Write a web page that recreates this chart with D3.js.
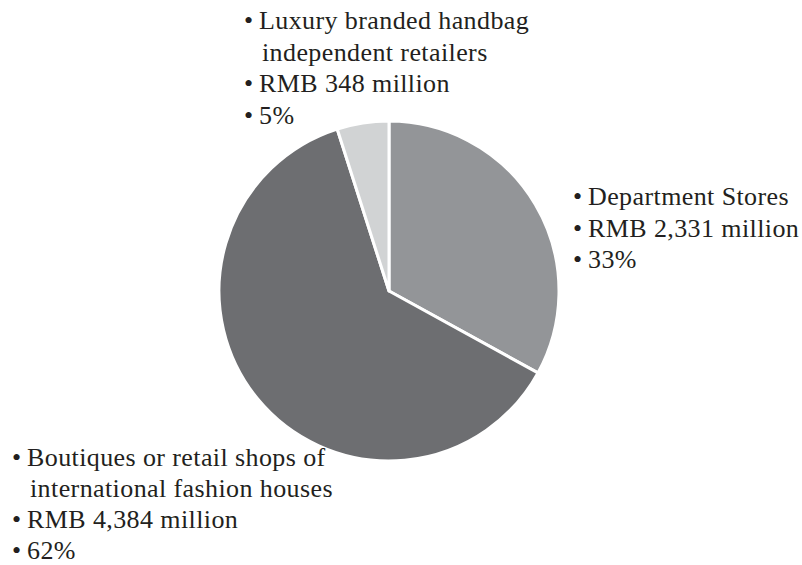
<!DOCTYPE html>
<html>
<head>
<meta charset="utf-8">
<script src="https://cdn.jsdelivr.net/npm/d3@7"></script>
<style>
  html, body { margin: 0; padding: 0; background: #fff; }
  svg { display: block; }
</style>
</head>
<body>
<svg id="chart" width="802" height="565"></svg>
<script>
// Luxury handbag sales by retail channel
const channels = [
  ["Department Stores"],
  ["Boutiques or retail shops of", "international fashion houses"],
  ["Luxury branded handbag", "independent retailers"]
];
const salesRMBm = [2331, 4384, 348];
const shares = [33, 62, 5];
const colors = ["#939598", "#6d6e71", "#d1d3d4"];

const W = 802, H = 565;
const cx = 389, cy = 291, R = 170;
const serif = "'Liberation Serif', 'Times New Roman', serif";

const svg = d3.select("#chart");
const g = svg.append("g").attr("transform", `translate(${cx},${cy})`);

const pie = d3.pie().sort(null).value(d => d)(salesRMBm);
const arc = d3.arc().innerRadius(0).outerRadius(R);

g.selectAll("path")
  .data(pie)
  .join("path")
  .attr("d", arc)
  .attr("fill", (d, i) => colors[i])
  .attr("stroke", "#fff")
  .attr("stroke-width", 3)
  .attr("stroke-linejoin", "round");

// Label blocks: bullet list per slice
const fs = 26;
const labelPos = [
  { x: 573, y: 205, lh: 31.5 },
  { x: 12, y: 466, lh: 31 },
  { x: 244, y: 29, lh: 31.5 }
];
const textIndent = 15;
const fmt = d3.format(",");

channels.forEach((lines, i) => {
  const items = [
    lines,
    [`RMB ${fmt(salesRMBm[i])} million`],
    [`${shares[i]}%`]
  ];
  const { x, y, lh } = labelPos[i];
  const block = svg.append("g")
    .attr("font-family", serif)
    .attr("font-size", fs)
    .attr("fill", "#231f20");
  let row = 0;
  items.forEach(item => {
    item.forEach((line, k) => {
      const yy = y + row * lh;
      if (k === 0) {
        block.append("text")
          .attr("x", x)
          .attr("y", yy)
          .text("\u2022");
      }
      block.append("text")
        .attr("x", x + textIndent + (k === 0 ? 0 : 3))
        .attr("y", yy)
        .attr("letter-spacing", 0.4)
        .text(line);
      row++;
    });
  });
});
</script>
</body>
</html>
